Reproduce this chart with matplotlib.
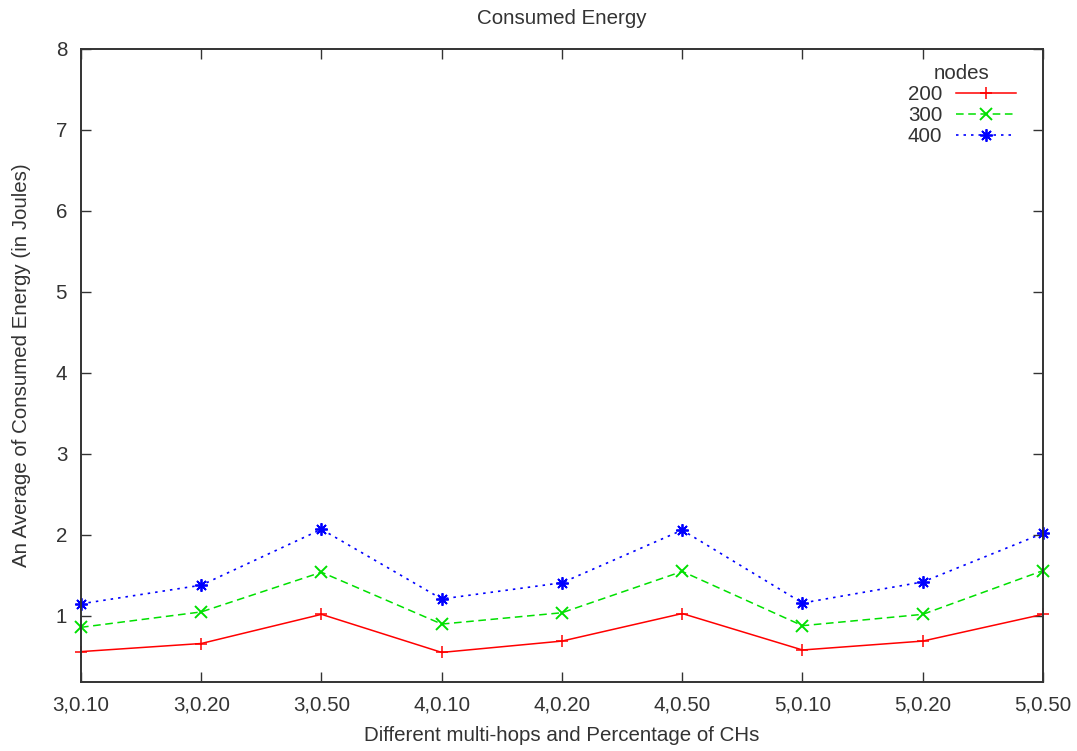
import numpy as np
import matplotlib.pyplot as plt

plt.rcParams['font.family'] = ['Liberation Sans', 'DejaVu Sans']

# categorias del eje x (saltos, porcentaje de CHs)
labels = ['3,0.10', '3,0.20', '3,0.50', '4,0.10', '4,0.20',
          '4,0.50', '5,0.10', '5,0.20', '5,0.50']

# energia promedio consumida por numero de nodos
e200 = [0.56, 0.66, 1.02, 0.55, 0.69, 1.03, 0.58, 0.69, 1.02]
e300 = [0.86, 1.05, 1.54, 0.90, 1.04, 1.55, 0.88, 1.02, 1.56]
e400 = [1.15, 1.38, 2.07, 1.21, 1.41, 2.06, 1.16, 1.42, 2.02]

txt = '#333333'
fs = 14.8

fig = plt.figure(figsize=(10.77, 7.51), dpi=100)
ax = fig.add_axes([0.0752, 0.0919, 0.8932, 0.8429])

x = np.arange(len(labels))
ax.plot(x, e200, color='#ff0000', lw=1.1, ls='-', marker='+', ms=9, mew=1.1,
        label='200', clip_on=False)
ax.plot(x, e300, color='#00e000', lw=1.1, ls=(0, (5, 3)), marker='x', ms=8, mew=1.4,
        label='300', clip_on=False)
ax.plot(x, e400, color='#0000ff', lw=1.2, ls=(0, (1.5, 3)), marker=(8, 2, 0), ms=9, mew=1.3,
        label='400', clip_on=False)

ax.set_xlim(0, 8)
ax.set_ylim(0.185, 8)
ax.set_xticks(x)
ax.set_xticklabels(labels)
ax.set_yticks(range(1, 9))

ax.tick_params(direction='in', length=7, width=1, top=True, right=True,
               labelsize=fs, labelcolor=txt, color=txt, pad=10)
for s in ax.spines.values():
    s.set_color(txt)
    s.set_linewidth(1.4)

ax.set_title('Consumed Energy', fontsize=fs, color=txt, pad=18)
ax.set_xlabel('Different multi-hops and Percentage of CHs', fontsize=fs, color=txt, labelpad=8)
ax.set_ylabel('An Average of Consumed Energy (in Joules)', fontsize=fs, color=txt, labelpad=18)

leg = ax.legend(title='nodes', loc='upper right', bbox_to_anchor=(0.987, 0.999),
                frameon=False, markerfirst=False, fontsize=fs, title_fontsize=fs,
                handlelength=2.9, handletextpad=0.7, labelspacing=0.1, borderpad=0.2)
for t in leg.get_texts():
    t.set_color(txt)
leg.get_title().set_color(txt)

fig.savefig('out.png', dpi=100)
